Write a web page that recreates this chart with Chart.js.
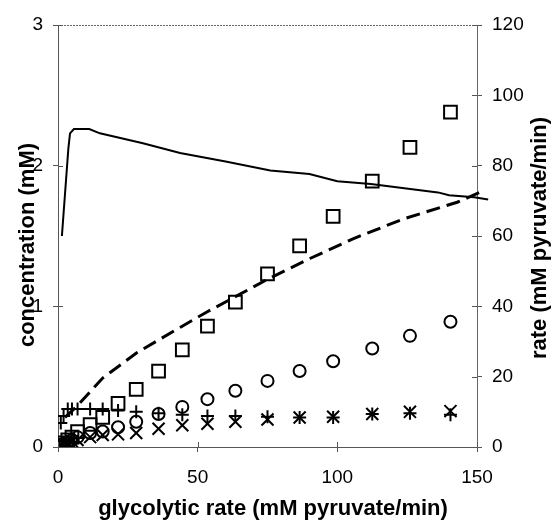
<!DOCTYPE html>
<html>
<head>
<meta charset="utf-8">
<script src="https://cdn.jsdelivr.net/npm/chart.js@4/dist/chart.umd.min.js"></script>
<style>
  html, body { margin: 0; padding: 0; background: #fff; }
  #wrap { width: 553px; height: 520px; }
</style>
</head>
<body>
<div id="wrap"><canvas id="chart" width="553" height="520"></canvas></div>
<script>
// x positions shared by the four marker series (glycolytic rate, mM pyruvate/min)
let rateX = [0.5, 1, 2, 3.5, 5, 7, 11.5, 16, 21.5, 28, 36, 44.5, 53.5, 63.5, 75, 86.5, 98.5, 112.5, 126, 140.5];

// marker series (concentration, mM)
let squares = [0.0, 0.01, 0.03, 0.05, 0.07, 0.11, 0.16, 0.21, 0.31, 0.41, 0.54, 0.69, 0.86, 1.03, 1.23, 1.43, 1.64, 1.89, 2.13, 2.38];
let circles = [0.0, 0.01, 0.02, 0.03, 0.05, 0.07, 0.10, 0.11, 0.14, 0.18, 0.235, 0.285, 0.34, 0.40, 0.47, 0.54, 0.61, 0.70, 0.79, 0.89];
let pluses  = [0.02, 0.17, 0.22, 0.27, 0.27, 0.27, 0.27, 0.27, 0.26, 0.25, 0.24, 0.23, 0.22, 0.22, 0.215, 0.21, 0.21, 0.235, 0.24, 0.23];
let crosses = [0.0, 0.01, 0.02, 0.03, 0.04, 0.05, 0.07, 0.085, 0.09, 0.10, 0.13, 0.155, 0.165, 0.18, 0.195, 0.21, 0.215, 0.235, 0.25, 0.255];

// solid line (concentration, mM)
let solidX = [1.4, 3.7, 4.3, 5.7, 11.2, 15, 30.4, 43.7, 60, 76, 90, 100, 112, 136, 140, 149, 154];
let solidY = [1.5, 2.12, 2.23, 2.26, 2.26, 2.23, 2.16, 2.09, 2.03, 1.965, 1.94, 1.89, 1.87, 1.81, 1.79, 1.775, 1.76];

// dashed line (rate, mM pyruvate/min) on the right axis
let dashX = [2.5, 6.8, 16, 28.2, 43.7, 53.3, 62.7, 74.8, 90.2, 105.6, 123.5, 142.9, 151];
let dashY = [8.4, 11.6, 19.6, 26.8, 34, 38.4, 42.4, 47.6, 53.6, 59.2, 64.8, 69.6, 72.4];

// axis labels
let xTitle = 'glycolytic rate (mM pyruvate/min)';
let leftTitle = 'concentration (mM)';
let rightTitle = 'rate (mM pyruvate/min)';

// turn two arrays into {x, y} points
function toPoints(xs, ys) {
    let pts = [];
    for (let i = 0; i < ys.length; i++) {
        pts.push({ x: xs[i], y: ys[i] });
    }
    return pts;
}

function markerSet(data, style, radius) {
    return {
        type: 'scatter',
        data: toPoints(rateX, data),
        yAxisID: 'y',
        pointStyle: style,
        pointRadius: radius,
        pointBorderWidth: 2,
        pointBorderColor: '#000',
        pointBackgroundColor: 'rgba(0,0,0,0)',
        showLine: false
    };
}

let fontFam = '"Liberation Sans", Arial, sans-serif';

// draws a title centred on (x, y), rotated by angle
function drawTitle(ctx, text, x, y, angle) {
    ctx.save();
    ctx.translate(x, y);
    ctx.rotate(angle);
    ctx.fillStyle = '#000';
    ctx.font = 'bold 22px ' + fontFam;
    ctx.textAlign = 'center';
    ctx.textBaseline = 'middle';
    ctx.fillText(text, 0, 0);
    ctx.restore();
}

// dotted top border, inner tick marks and the axis titles
let framePlugin = {
    id: 'frame',
    afterDraw: function(chart) {
        let ctx = chart.ctx;
        let a = chart.chartArea;
        ctx.save();
        ctx.strokeStyle = '#666';
        ctx.lineWidth = 1;
        ctx.setLineDash([2, 1]);
        ctx.beginPath();
        ctx.moveTo(a.left, a.top + 0.5);
        ctx.lineTo(a.right, a.top + 0.5);
        ctx.stroke();
        ctx.setLineDash([]);

        // short ticks pointing into the plot
        ctx.strokeStyle = '#555';
        ctx.beginPath();
        chart.scales.x.ticks.forEach(function(t) {
            let px = Math.round(chart.scales.x.getPixelForValue(t.value)) + 0.5;
            ctx.moveTo(px, a.bottom);
            ctx.lineTo(px, a.bottom - 5);
        });
        chart.scales.y.ticks.forEach(function(t) {
            let py = Math.round(chart.scales.y.getPixelForValue(t.value)) + 0.5;
            ctx.moveTo(a.left, py);
            ctx.lineTo(a.left + 5, py);
        });
        chart.scales.y1.ticks.forEach(function(t) {
            let py = Math.round(chart.scales.y1.getPixelForValue(t.value)) + 0.5;
            ctx.moveTo(a.right, py);
            ctx.lineTo(a.right - 5, py);
        });
        ctx.stroke();
        ctx.restore();

        drawTitle(ctx, xTitle, 273, 509, 0);
        drawTitle(ctx, leftTitle, 28, 245, -Math.PI / 2);
        drawTitle(ctx, rightTitle, 540, 238, -Math.PI / 2);
    }
};

new Chart(document.getElementById('chart'), {
    data: {
        datasets: [
            {
                type: 'line',
                data: toPoints(solidX, solidY),
                yAxisID: 'y',
                borderColor: '#000',
                borderWidth: 2,
                pointRadius: 0,
                tension: 0,
                fill: false,
                clip: false
            },
            {
                type: 'line',
                data: toPoints(dashX, dashY),
                yAxisID: 'y1',
                borderColor: '#000',
                borderWidth: 3,
                borderDash: [14, 7],
                pointRadius: 0,
                tension: 0,
                fill: false,
                clip: false
            },
            markerSet(squares, 'rect', 9),
            markerSet(circles, 'circle', 6),
            markerSet(pluses, 'cross', 6.5),
            markerSet(crosses, 'crossRot', 8.5)
        ]
    },
    options: {
        responsive: false,
        animation: false,
        layout: { padding: { top: 25, left: 0, right: 0, bottom: 0 } },
        plugins: {
            legend: { display: false },
            tooltip: { enabled: false }
        },
        scales: {
            x: {
                type: 'linear',
                min: 0,
                max: 150,
                afterFit: function(s) { s.height = 73; },
                ticks: { stepSize: 50, color: '#000', padding: 14, font: { family: fontFam, size: 19 } },
                grid: { drawOnChartArea: false, tickLength: 5, color: '#555' },
                border: { color: '#555', width: 1 }
            },
            y: {
                type: 'linear',
                position: 'left',
                min: 0,
                max: 3,
                afterFit: function(s) { s.width = 58; },
                ticks: { stepSize: 1, color: '#000', padding: 10, font: { family: fontFam, size: 19 } },
                grid: { drawOnChartArea: false, tickLength: 5, color: '#555' },
                border: { color: '#555', width: 1 }
            },
            y1: {
                type: 'linear',
                position: 'right',
                min: 0,
                max: 120,
                afterFit: function(s) { s.width = 76; },
                ticks: { stepSize: 20, color: '#000', padding: 10, font: { family: fontFam, size: 19 } },
                grid: { drawOnChartArea: false, tickLength: 5, color: '#555' },
                border: { color: '#666', width: 1, dash: [2, 1] }
            }
        }
    },
    plugins: [framePlugin]
});
</script>
</body>
</html>
